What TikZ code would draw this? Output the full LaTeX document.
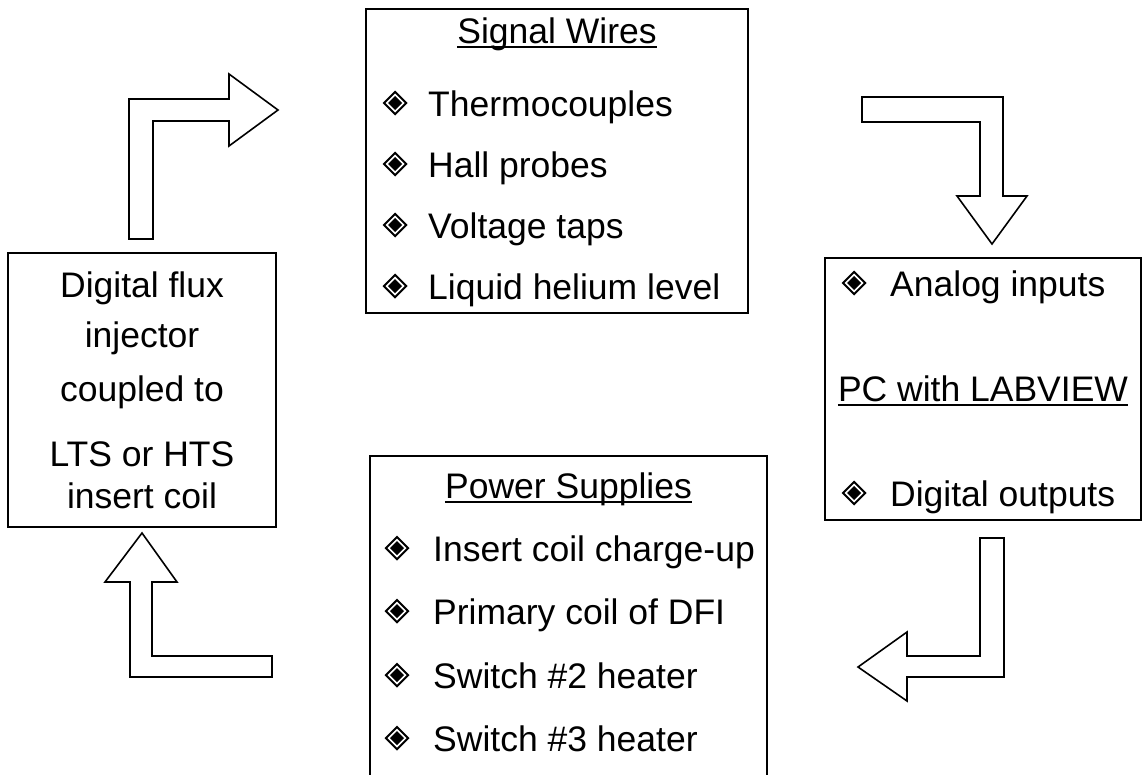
\documentclass[tikz,border=0pt]{standalone}
\usepackage{fontspec}
\setmainfont{Liberation Sans}

\begin{document}
\begin{tikzpicture}[x=1pt,y=-1pt,
  box/.style={draw,line width=1.6pt,inner sep=0pt},
  heading/.style={font=\fontsize{35.5}{42}\selectfont,inner sep=0pt,anchor=base},
  entry/.style={font=\fontsize{35.5}{42}\selectfont,inner sep=0pt,anchor=base west},
  uline/.style={line width=1.8pt},
  blockarrow/.style={draw,line width=1.6pt,line join=miter,fill=white},
  bulletmark/.pic={
    \fill (0,-12.5) -- (12.5,0) -- (0,12.5) -- (-12.5,0) -- cycle;
    \fill[white] (0,-9.5) -- (9.5,0) -- (0,9.5) -- (-9.5,0) -- cycle;
    \fill (0,-7) -- (7,0) -- (0,7) -- (-7,0) -- cycle;}]

  \useasboundingbox (0,0) rectangle (1147,774);

  % boxes
  \node[box,minimum width=382pt,minimum height=304pt] (sig) at (557,161) {};
  \node[box,minimum width=268pt,minimum height=274pt] (dfi) at (142,390) {};
  \node[box,minimum width=316pt,minimum height=262pt] (pc) at (983,389) {};
  \node[box,minimum width=397pt,minimum height=344pt] (pwr) at (568.5,628) {};

  % signal wires
  \node[heading] (sigt) at (557,43) {Signal Wires};
  \draw[uline] ([yshift=-4pt]sigt.base west) -- ([yshift=-4pt]sigt.base east);
  \pic at (395,103) {bulletmark};
  \node[entry] (sig1) at (428,116) {Thermocouples};
  \pic at (395,164) {bulletmark};
  \node[entry] (sig2) at (428,177) {Hall probes};
  \pic at (395,225) {bulletmark};
  \node[entry] (sig3) at (428,238) {Voltage taps};
  \pic at (395,286) {bulletmark};
  \node[entry] (sig4) at (428,299) {Liquid helium level};

  % flux injector
  \node[heading] (dfi1) at (142,297) {Digital flux};
  \node[heading] (dfi2) at (142,347) {injector};
  \node[heading] (dfi3) at (142,401) {coupled to};
  \node[heading] (dfi4) at (142,466) {LTS or HTS};
  \node[heading] (dfi5) at (142,508) {insert coil};

  % data acquisition pc
  \pic at (854,283) {bulletmark};
  \node[entry] (pc1) at (890,296) {Analog inputs};
  \node[heading] (pct) at (983,401) {PC with LABVIEW};
  \draw[uline] ([yshift=-4pt]pct.base west) -- ([yshift=-4pt]pct.base east);
  \pic at (854,493) {bulletmark};
  \node[entry] (pc2) at (890,506) {Digital outputs};

  % power supplies
  \node[heading] (pwrt) at (568.5,498) {Power Supplies};
  \draw[uline] ([yshift=-4pt]pwrt.base west) -- ([yshift=-4pt]pwrt.base east);
  \pic at (397,548) {bulletmark};
  \node[entry] (pwr1) at (433,561) {Insert coil charge-up};
  \pic at (397,611) {bulletmark};
  \node[entry] (pwr2) at (433,624) {Primary coil of DFI};
  \pic at (397,675) {bulletmark};
  \node[entry] (pwr3) at (433,688) {Switch \#2 heater};
  \pic at (397,738) {bulletmark};
  \node[entry] (pwr4) at (433,751) {Switch \#3 heater};

  % bent block arrows
  \draw[blockarrow] (129,239) -- (129,99) -- (229,99) -- (229,74) -- (278,110)
    -- (229,146) -- (229,121) -- (153,121) -- (153,239) -- cycle;
  \draw[blockarrow] (862,97) -- (1003,97) -- (1003,196) -- (1027,196) -- (992,244)
    -- (957,196) -- (980,196) -- (980,122) -- (862,122) -- cycle;
  \draw[blockarrow] (1004,538) -- (1004,677) -- (907,677) -- (907,701) -- (858,667)
    -- (907,632) -- (907,656) -- (980,656) -- (980,538) -- cycle;
  \draw[blockarrow] (142,533) -- (177,582) -- (152,582) -- (152,656) -- (272,656)
    -- (272,677) -- (130,677) -- (130,582) -- (105,582) -- cycle;

\end{tikzpicture}
\end{document}
